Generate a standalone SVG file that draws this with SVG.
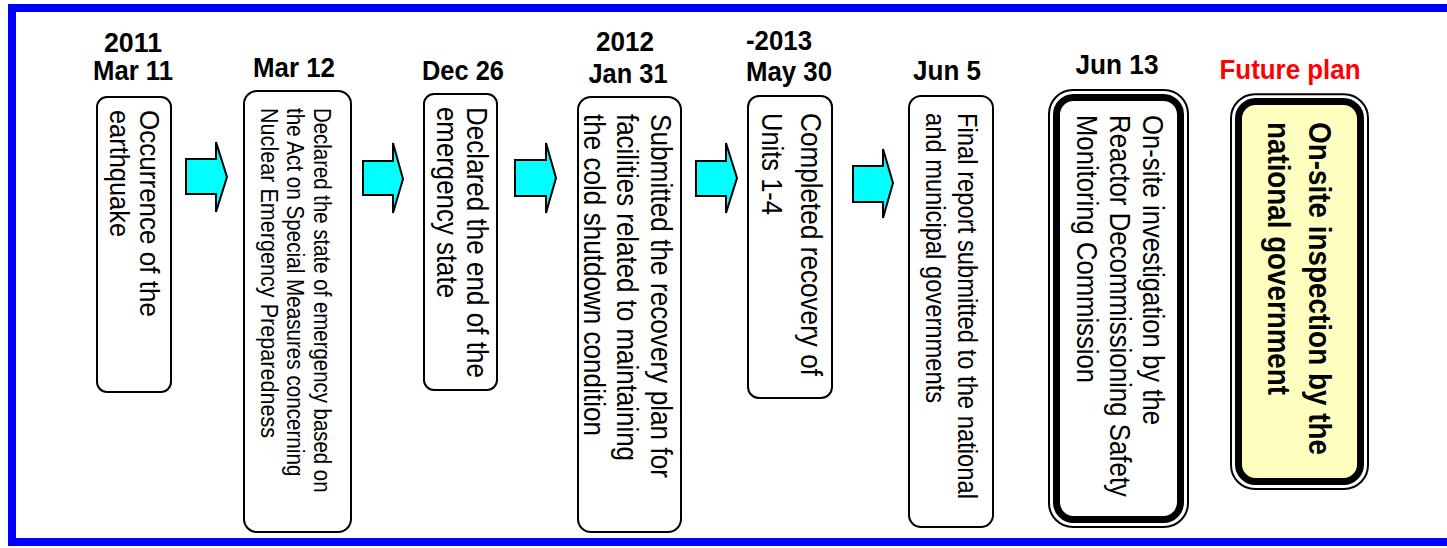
<svg xmlns="http://www.w3.org/2000/svg" width="1447" height="548" viewBox="0 0 1447 548">
<style>
.frame{fill:none;stroke:#0000FF;stroke-width:8}
.box{fill:#FFFFFF;stroke:#000000;stroke-width:2}
.thin{fill:#FFFFFF;stroke:#000000;stroke-width:2}
.thick{fill:#FFFFFF;stroke:#000000;stroke-width:7}
.thick.y{fill:#FFFFC0}
.date{font-family:"Liberation Sans",Arial,sans-serif;font-weight:bold;font-size:28px;fill:#000000;text-anchor:middle}
.red{fill:#FF0000}
.t{font-family:"Liberation Sans",Arial,sans-serif;fill:#000000}
.arrow{fill:#00FFFF;stroke:#000000;stroke-width:2;stroke-linejoin:miter}
</style>
<rect class="frame" x="12" y="8" width="1445" height="534"/>

<g id="connectors">
<polygon class="arrow" points="186,159 216,159 216,142 227,177 216,212 216,194 186,194"/>
<polygon class="arrow" points="363,161 393,161 393,143 403,179 393,213 393,195 363,195"/>
<polygon class="arrow" points="515,160 546,160 546,143 556,178 546,213 546,196 515,196"/>
<polygon class="arrow" points="696,161 726,161 726,143 737,178 726,213 726,196 696,196"/>
<polygon class="arrow" points="853,166 883,166 883,149 893,183 883,218 883,202 853,202"/>
</g>

<g id="n1">
<text class="date" x="133" y="52" textLength="58" lengthAdjust="spacingAndGlyphs">2011</text>
<text class="date" x="133" y="80" textLength="80" lengthAdjust="spacingAndGlyphs">Mar 11</text>
<rect class="box" x="97" y="97" width="74" height="295" rx="10"/>
<text class="t" font-size="27" transform="translate(139.5,110) rotate(90)" textLength="207" lengthAdjust="spacingAndGlyphs">Occurrence of the</text>
<text class="t" font-size="27" transform="translate(109.5,110) rotate(90)" textLength="127" lengthAdjust="spacingAndGlyphs">earthquake</text>
</g>

<g id="n2">
<text class="date" x="294" y="77" textLength="82" lengthAdjust="spacingAndGlyphs">Mar 12</text>
<rect class="box" x="244" y="91" width="107" height="441" rx="13"/>
<text class="t" font-size="24" transform="translate(313.5,108) rotate(90) scale(0.851,1)">Declared the state of emergency based on</text>
<text class="t" font-size="24" transform="translate(287,108) rotate(90) scale(0.861,1)">the Act on Special Measures concerning</text>
<text class="t" font-size="24" transform="translate(260.5,108) rotate(90) scale(0.9,1)">Nuclear Emergency Preparedness</text>
</g>

<g id="n3">
<text class="date" x="463" y="80" textLength="82" lengthAdjust="spacingAndGlyphs">Dec 26</text>
<rect class="box" x="424" y="94" width="73" height="296" rx="10"/>
<text class="t" font-size="29" transform="translate(467,107) rotate(90)" textLength="271" lengthAdjust="spacingAndGlyphs">Declared the end of the</text>
<text class="t" font-size="29" transform="translate(437,107) rotate(90)" textLength="191" lengthAdjust="spacingAndGlyphs">emergency state</text>
</g>

<g id="n4">
<text class="date" x="625" y="51" textLength="58" lengthAdjust="spacingAndGlyphs">2012</text>
<text class="date" x="628" y="83" textLength="79" lengthAdjust="spacingAndGlyphs">Jan 31</text>
<rect class="box" x="578" y="97" width="103" height="435" rx="13"/>
<text class="t" font-size="29" transform="translate(651,114) rotate(90)" textLength="364" lengthAdjust="spacingAndGlyphs">Submitted the recovery plan for</text>
<text class="t" font-size="29" transform="translate(617,114) rotate(90)" textLength="347" lengthAdjust="spacingAndGlyphs">facilities related to maintaining</text>
<text class="t" font-size="29" transform="translate(584,114) rotate(90)" textLength="322" lengthAdjust="spacingAndGlyphs">the cold shutdown condition</text>
</g>

<g id="n5">
<text class="date" x="779" y="50" textLength="66" lengthAdjust="spacingAndGlyphs">-2013</text>
<text class="date" x="789" y="81" textLength="86" lengthAdjust="spacingAndGlyphs">May 30</text>
<rect class="box" x="748" y="96" width="84" height="302" rx="11"/>
<text class="t" font-size="29" transform="translate(800.5,113) rotate(90)" textLength="263" lengthAdjust="spacingAndGlyphs">Completed recovery of</text>
<text class="t" font-size="29" transform="translate(762,113) rotate(90)" textLength="102" lengthAdjust="spacingAndGlyphs">Units 1-4</text>
</g>

<g id="n6">
<text class="date" x="947" y="80" textLength="68" lengthAdjust="spacingAndGlyphs">Jun 5</text>
<rect class="box" x="909" y="96" width="84" height="431" rx="12"/>
<text class="t" font-size="27" transform="translate(957.5,113) rotate(90) scale(0.881,1)">Final report submitted to the national</text>
<text class="t" font-size="27" transform="translate(926,113) rotate(90) scale(0.879,1)">and municipal governments</text>
</g>

<g id="n7">
<text class="date" x="1117" y="74" textLength="83" lengthAdjust="spacingAndGlyphs">Jun 13</text>
<rect class="thin" x="1049" y="90" width="139" height="437" rx="24"/>
<rect class="thick" x="1056.5" y="97.5" width="124" height="422" rx="17"/>
<text class="t" font-size="29" transform="translate(1142.5,115) rotate(90)" textLength="310" lengthAdjust="spacingAndGlyphs">On-site investigation by the</text>
<text class="t" font-size="29" transform="translate(1110,115) rotate(90)" textLength="382" lengthAdjust="spacingAndGlyphs">Reactor Decommissioning Safety</text>
<text class="t" font-size="29" transform="translate(1076.5,115) rotate(90)" textLength="268" lengthAdjust="spacingAndGlyphs">Monitoring Commission</text>
</g>

<g id="n8">
<text class="date red" x="1290" y="79" textLength="141" lengthAdjust="spacingAndGlyphs">Future plan</text>
<rect class="thin" x="1231" y="94.3" width="137" height="394.7" rx="24"/>
<rect class="thick y" x="1238.5" y="101.5" width="122" height="380" rx="17"/>
<text class="t" font-size="31" font-weight="bold" transform="translate(1309,122) rotate(90)" textLength="333" lengthAdjust="spacingAndGlyphs">On-site inspection by the</text>
<text class="t" font-size="31" font-weight="bold" transform="translate(1268,122) rotate(90)" textLength="273" lengthAdjust="spacingAndGlyphs">national government</text>
</g>
</svg>
